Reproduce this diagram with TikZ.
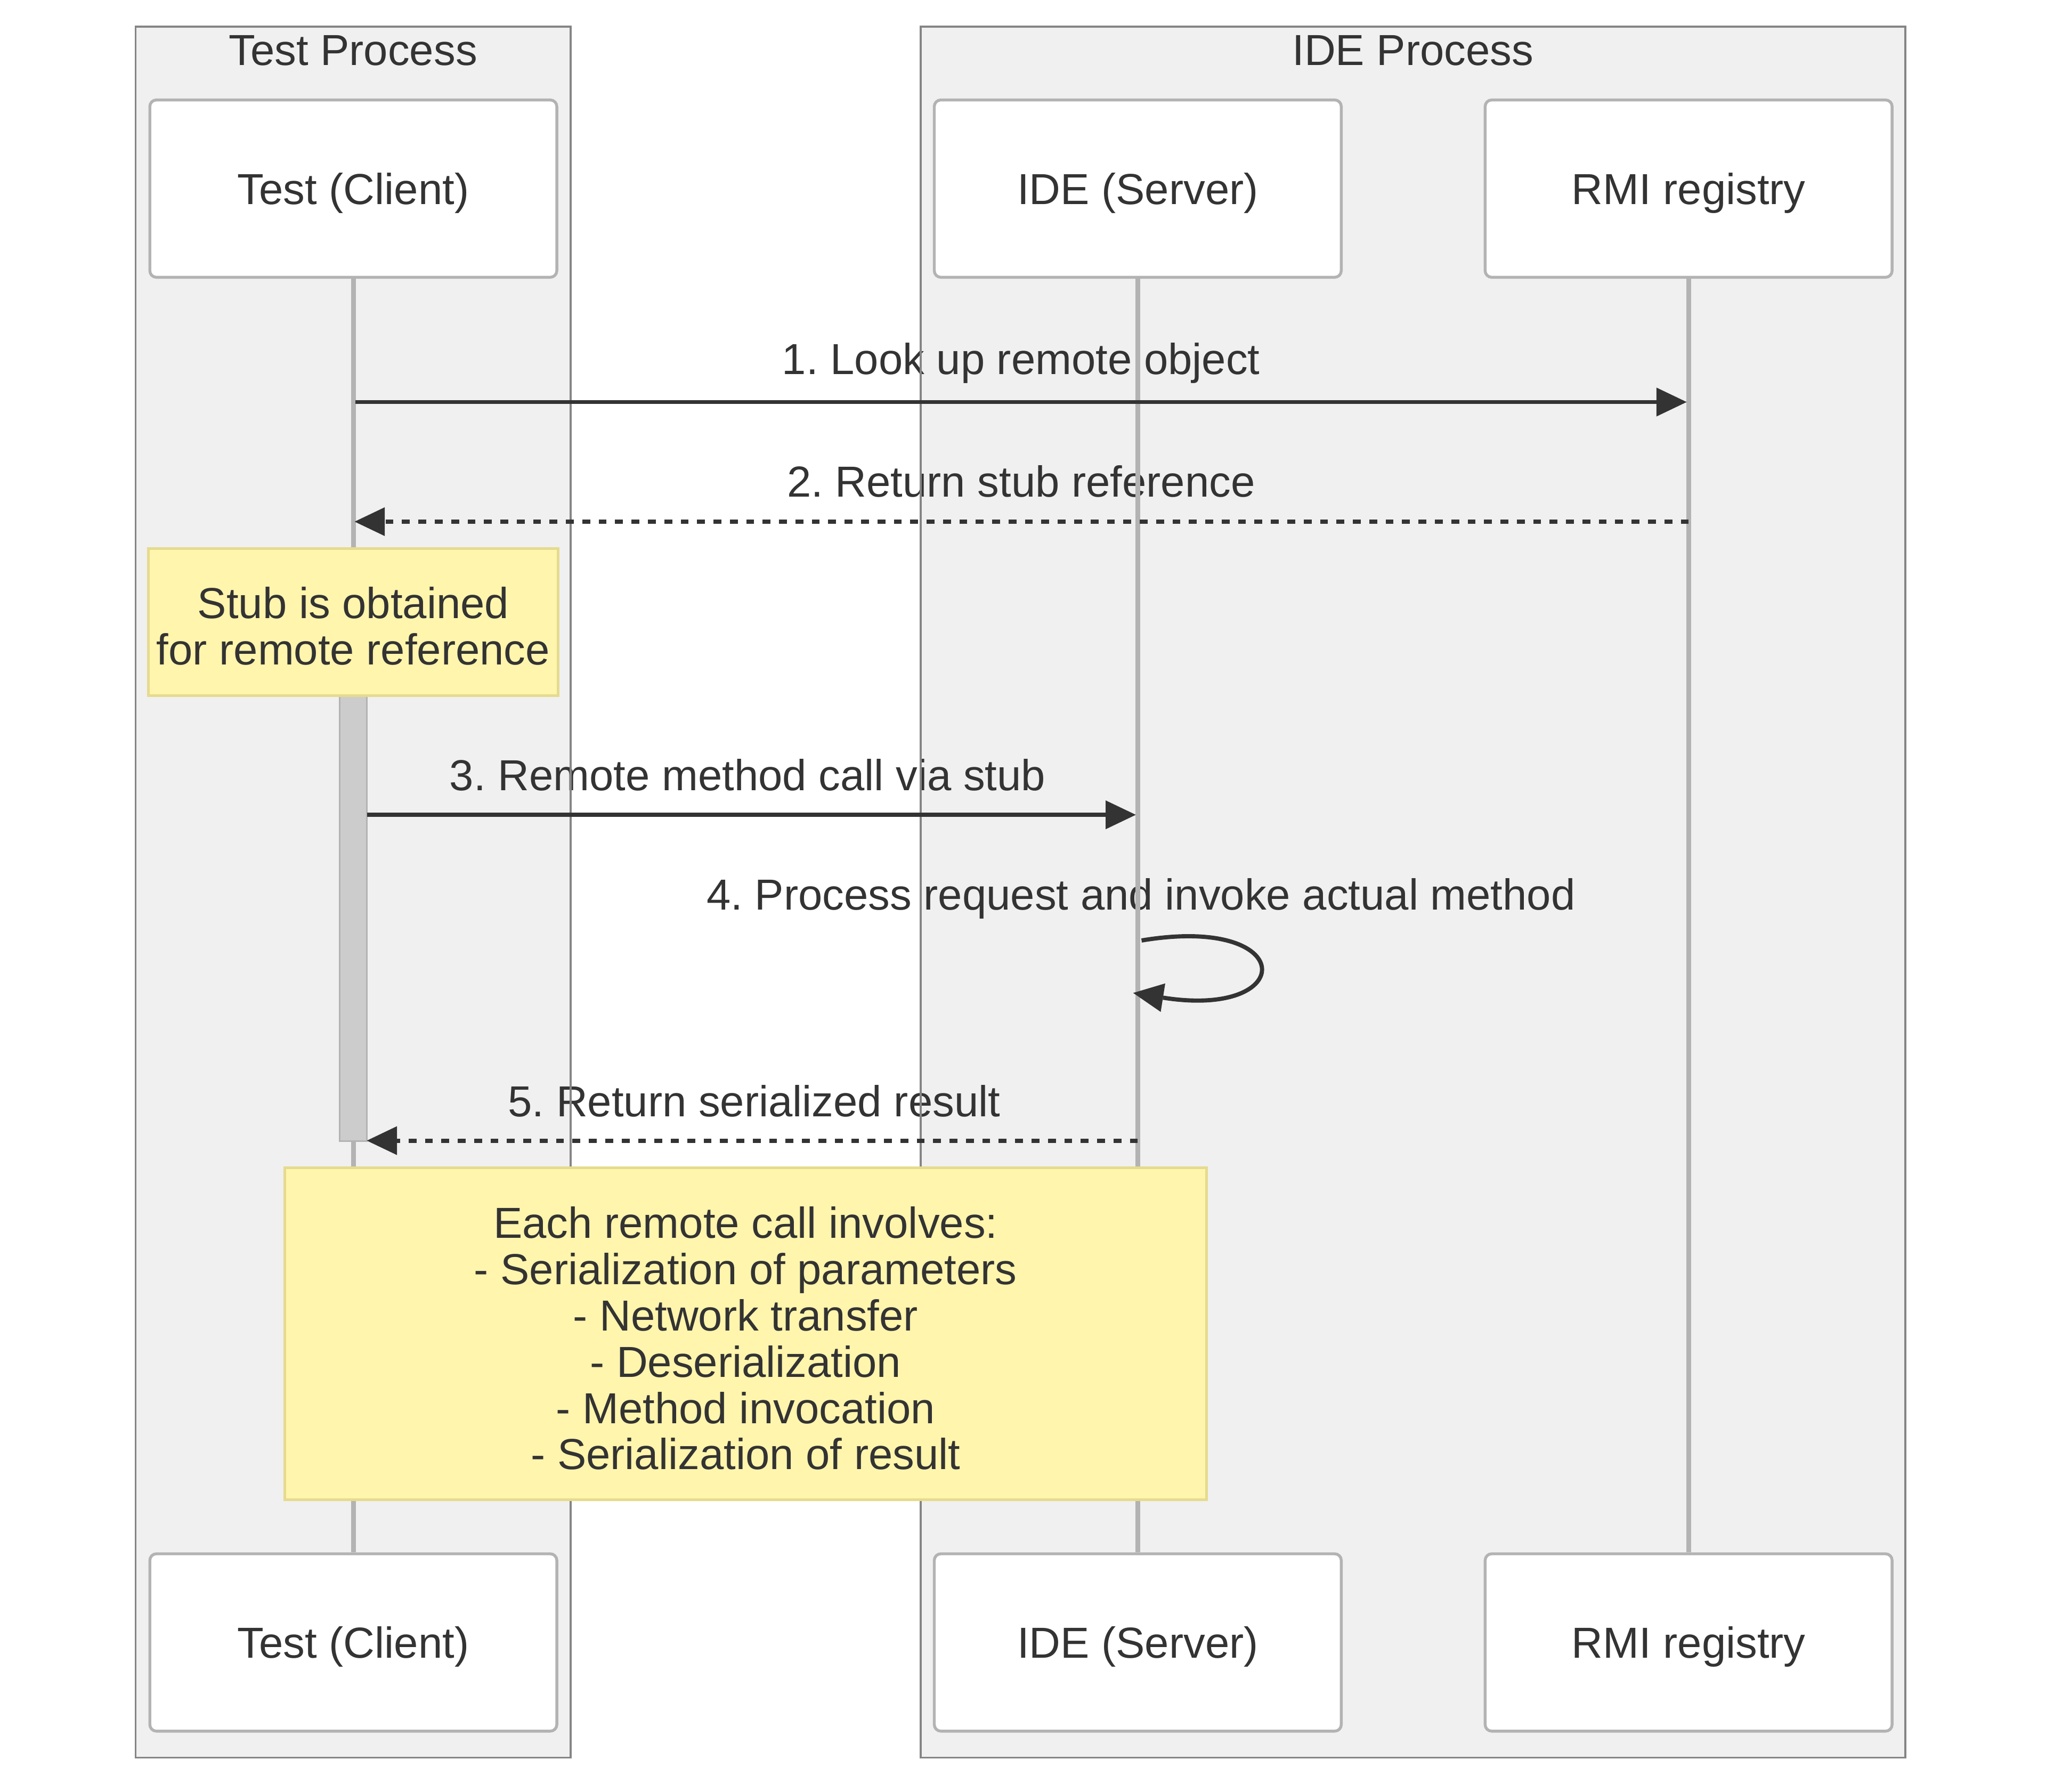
\documentclass[tikz,border=0pt]{standalone}
\usepackage{fontspec}
\setmainfont{Liberation Sans}
\usetikzlibrary{arrows.meta}
\definecolor{txt}{HTML}{333333}
\definecolor{grpfill}{HTML}{F0F0F0}
\definecolor{grpline}{HTML}{858585}
\definecolor{actline}{HTML}{B3B3B3}
\definecolor{notefill}{HTML}{FFF5AD}
\definecolor{noteline}{HTML}{E6DA8E}
\definecolor{actfill}{HTML}{CCCCCC}
\frenchspacing
\begin{document}
\begin{tikzpicture}[x=1pt,y=-1pt,
  font=\fontsize{33.1}{35.3}\selectfont, text=txt,
  grpbg/.style={fill=grpfill},
  grpbd/.style={draw=grpline, line width=1.5pt},
  grptitle/.style={anchor=base, inner sep=0pt},
  actor/.style={draw=actline, fill=white, line width=2.2pt, rounded corners=5pt,
    minimum width=310.3pt, minimum height=135.2pt, text height=23.7pt, text depth=0pt, inner sep=0pt},
  life/.style={draw=actline, line width=3.6pt},
  msg/.style={draw=txt, line width=3.2pt, -{Triangle[length=23pt,width=22pt,line width=0pt]}},
  ret/.style={msg, dash pattern=on 6pt off 6.5pt},
  lbl/.style={anchor=base, inner sep=0pt},
  notebox/.style={draw=noteline, fill=notefill, line width=2pt, align=center, inner sep=0pt},
  actbar/.style={draw=actline, fill=actfill, line width=1.5pt, inner sep=0pt,
    minimum width=20.7pt, minimum height=339.5pt}
]
\useasboundingbox (0,0) rectangle (1560,1366.2);

% group backgrounds
\fill[grpbg] (103.4,20.2) rectangle (435,1340);
\fill[grpbg] (702,20.2) rectangle (1452.6,1340);
\node[grptitle] (tpt) at (269.2,49.8) {Test Process};
\node[grptitle] (ipt) at (1077.3,49.8) {IDE Process};

% message labels (under borders/lifelines)
\node[lbl] (l1) at (778.5,285.5) {1. Look up remote object};
\node[lbl] (l2) at (778.5,379) {2. Return stub reference};
\node[lbl] (l3) at (570,602.5) {3. Remote method call via stub};
\node[lbl] (l4) at (870,693.7) {4. Process request and invoke actual method};
\node[lbl] (l5) at (575,851.3) {5. Return serialized result};

% group borders
\draw[grpbd] (103.4,20.2) rectangle (435,1340);
\draw[grpbd] (702,20.2) rectangle (1452.6,1340);

% actors
\node[actor] (tc) at (269.4,143.8) {Test (Client)};
\node[actor] (ide) at (867.5,143.8) {IDE (Server)};
\node[actor] (rmi) at (1287.5,143.8) {RMI registry};
\node[actor] (tcb) at (269.4,1252.2) {Test (Client)};
\node[actor] (ideb) at (867.5,1252.2) {IDE (Server)};
\node[actor] (rmib) at (1287.5,1252.2) {RMI registry};

% lifelines
\draw[life] (tc.south) -- (tcb.north);
\draw[life] (ide.south) -- (ideb.north);
\draw[life] (rmi.south) -- (rmib.north);

% activation
\node[actbar] (act) at (269.35,700.25) {};

% message anchor points
\coordinate (m1a) at (271,306.5);
\coordinate (m1b) at (1286,306.5);
\coordinate (m2a) at (1287.5,397.7);
\coordinate (m2b) at (270.4,397.7);
\coordinate (m3a) at (279.7,621.2);
\coordinate (m3b) at (866,621.2);
\coordinate (m4a) at (870.4,717);
\coordinate (m4b) at (864,757);
\coordinate (m5a) at (867.5,869.6);
\coordinate (m5b) at (279.7,869.6);

\draw[msg] (m1a) -- (m1b);
\draw[ret] (m2a) -- (m2b);
\draw[msg] (m3a) -- (m3b);
\draw[msg] (m4a) .. controls (990,697) and (990,777) .. (m4b);
\draw[ret] (m5a) -- (m5b);

% notes
\node[notebox, minimum width=312.1pt, minimum height=112.2pt] (n1) at (269.35,474.4)
  {\rule{0pt}{30pt}Stub is obtained\\for remote reference};
\node[notebox, minimum width=702.7pt, minimum height=252.8pt] (n2) at (568.5,1016.8)
  {\rule{0pt}{31pt}Each remote call involves:\\- Serialization of parameters\\- Network transfer\\- Deserialization\\- Method invocation\\- Serialization of result};
\end{tikzpicture}
\end{document}
